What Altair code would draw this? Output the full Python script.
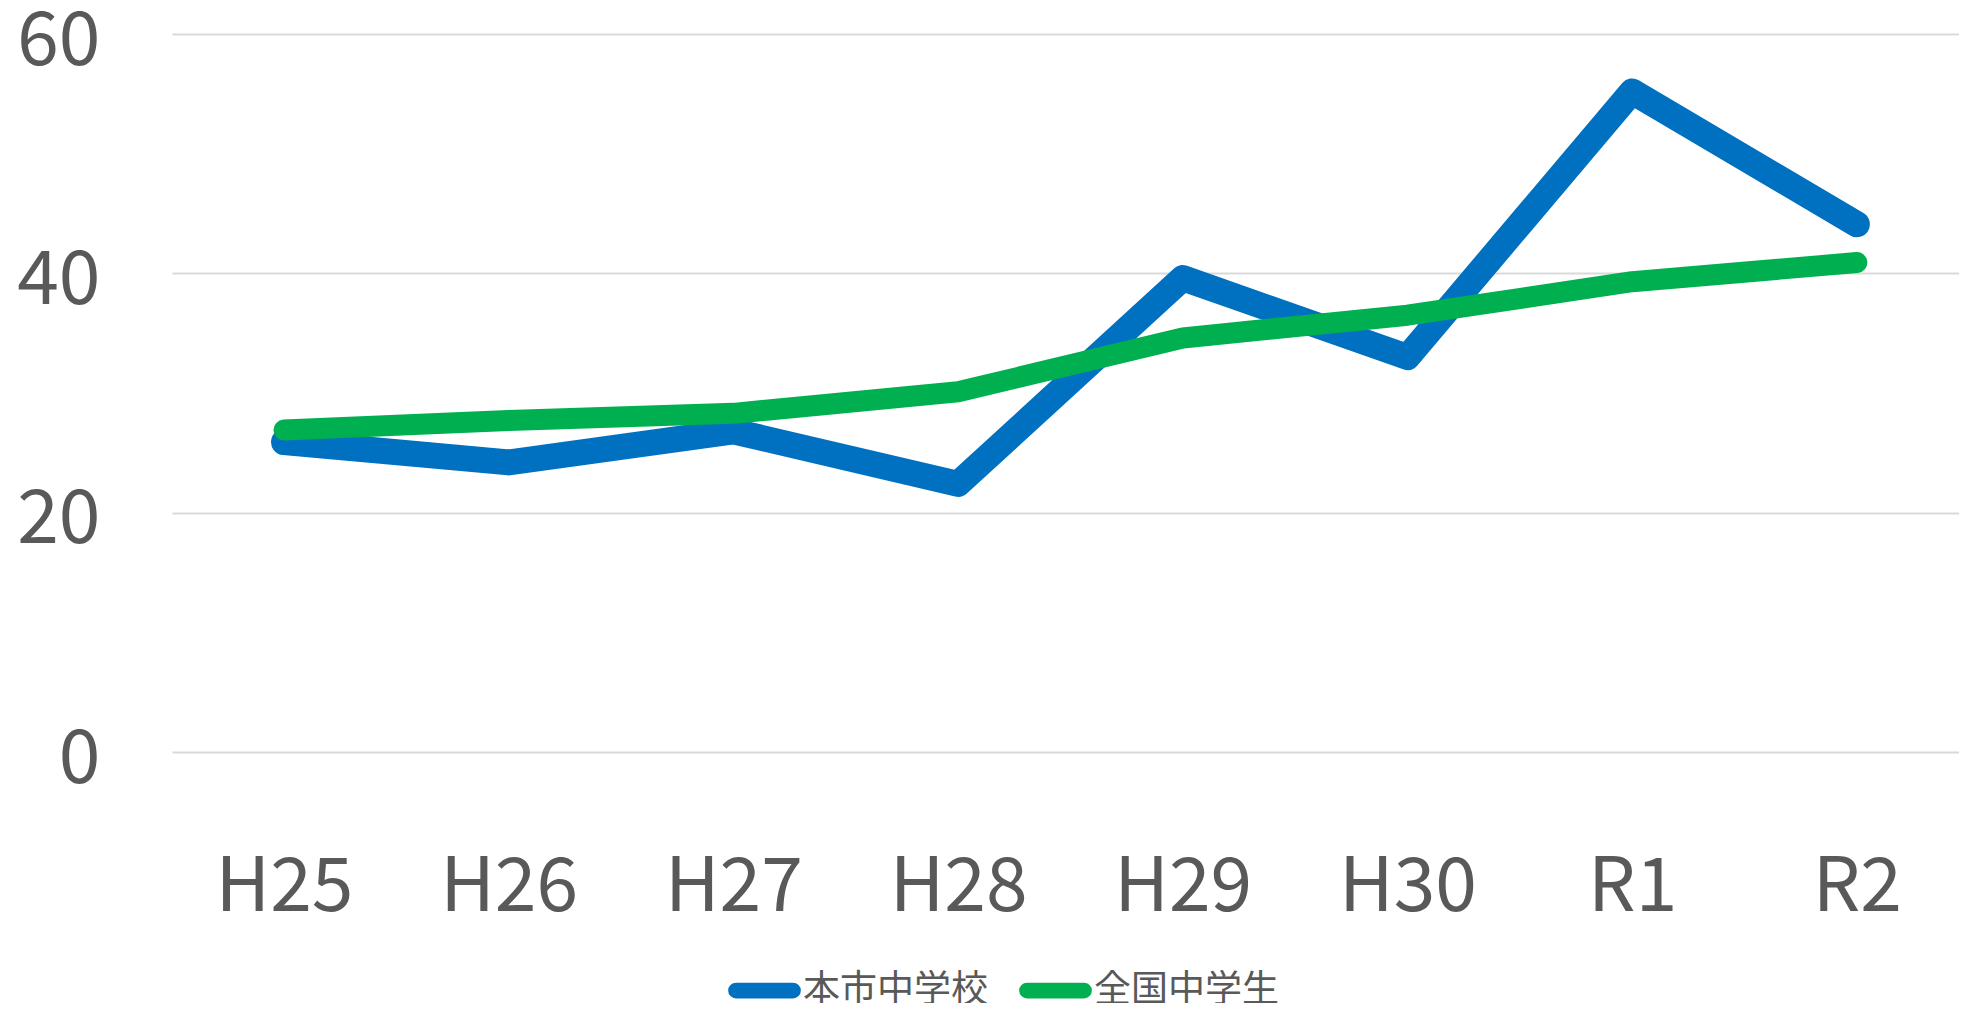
import altair as alt
import pandas as pd

FONT = "Noto Sans CJK JP"

categories = ["H25", "H26", "H27", "H28", "H29", "H30", "R1", "R2"]
city_values = [25.9, 24.2, 26.8, 22.4, 39.6, 33.0, 55.2, 44.1]
national_values = [26.9, 27.7, 28.3, 30.1, 34.6, 36.5, 39.3, 40.9]
series_names = ["本市中学校", "全国中学生"]
series_colors = ["#0070C0", "#00B050"]
y_ticks = [0, 20, 40, 60]

# rounded "stadium" legend symbol (thin loop stroked wide gives round ends)
LEGEND_SYMBOL = ("M-0.75,-0.01 L0.927,-0.01 A0.01,0.01 0 0 1 0.927,0.01 "
                 "L-0.75,0.01 A0.01,0.01 0 0 1 -0.75,-0.01 Z")

df = pd.DataFrame({
    "year": categories * 2,
    "value": city_values + national_values,
    "series": [series_names[0]] * len(categories) + [series_names[1]] * len(categories),
})

x_enc = alt.X(
    "year:N",
    sort=categories,
    scale=alt.Scale(type="point", padding=0.4765, align=0.523),
    axis=alt.Axis(
        title=None, labelAngle=0, ticks=False, domain=False, grid=False,
        labelPadding=99, labelFontSize=75, labelColor="#595959", labelFont=FONT,
        labelOverlap=False,
    ),
)
y_enc = alt.Y(
    "value:Q",
    scale=alt.Scale(domain=[0, 60], nice=False),
    axis=alt.Axis(
        title=None, values=y_ticks, ticks=False, domain=False,
        gridColor="#d9d9d9", gridWidth=2,
        labelPadding=72, labelFontSize=75, labelColor="#595959", labelFont=FONT,
        labelBaseline="alphabetic", labelOffset=30, labelOverlap=False,
    ),
)
color_enc = alt.Color(
    "series:N",
    scale=alt.Scale(domain=series_names, range=series_colors),
    legend=alt.Legend(
        title=None, orient="none", legendX=548, legendY=915, direction="horizontal",
        symbolType=LEGEND_SYMBOL, symbolStrokeWidth=15, symbolSize=4624,
        labelFontSize=37, labelFont=FONT, labelColor="#595959", labelOffset=0,
        labelLimit=0, columnPadding=8, padding=0,
    ),
)

base = alt.Chart(df)

city_line = base.transform_filter(alt.datum.series == series_names[0]).mark_line(
    strokeWidth=26, strokeCap="round", strokeJoin="round"
).encode(x=x_enc, y=y_enc, color=color_enc)

national_line = base.transform_filter(alt.datum.series == series_names[1]).mark_line(
    strokeWidth=21, strokeCap="round", strokeJoin="round"
).encode(x=x_enc, y=y_enc, color=color_enc)

chart = alt.layer(city_line, national_line).properties(
    width=1787,
    height=718,
    autosize=alt.AutoSizeParams(type="none"),
    padding={"left": 164, "top": 26, "right": 0, "bottom": 251},
    background="white",
).configure_view(stroke=None)

chart.save("out.html", embed_options={"renderer": "svg", "actions": False})
